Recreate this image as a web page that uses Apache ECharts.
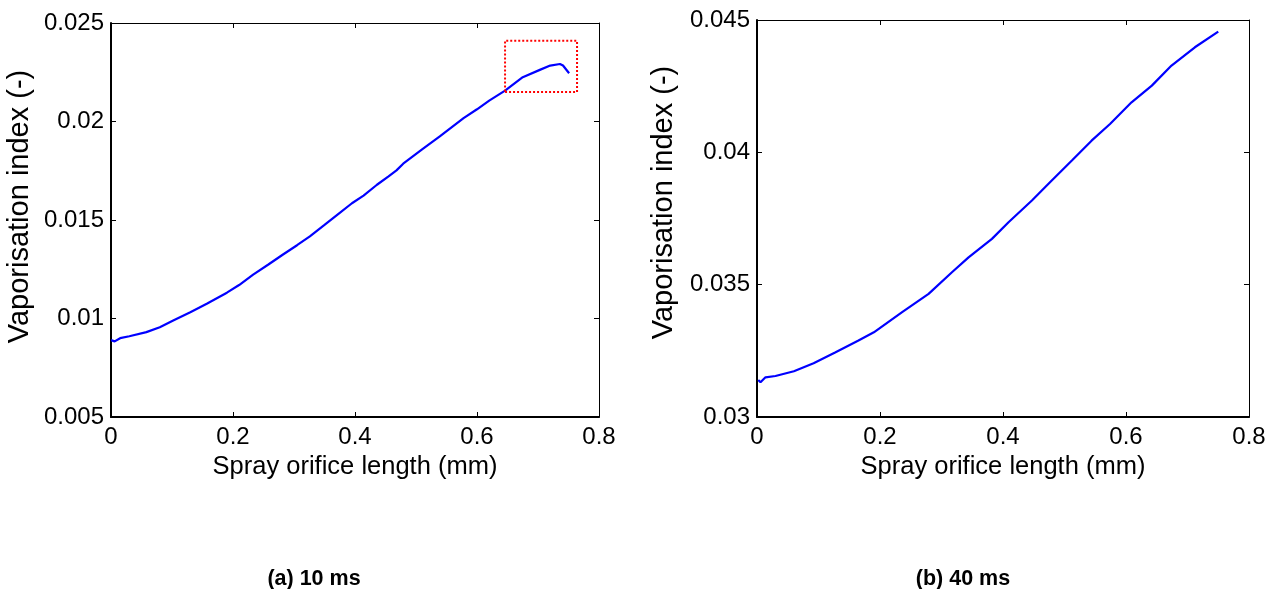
<!DOCTYPE html>
<html>
<head>
<meta charset="utf-8">
<script src="https://cdn.jsdelivr.net/npm/echarts@6/dist/echarts.min.js"></script>
<style>
html,body{margin:0;padding:0;background:#fff;}
#chart{width:1276px;height:589px;}
</style>
</head>
<body>
<div id="chart"></div>
<script>
// ---- Data ----
const leftX = [0.000,0.006,0.015,0.030,0.058,0.080,0.102,0.130,0.157,0.190,0.210,0.233,0.258,0.282,0.305,0.326,0.350,0.375,0.395,0.414,0.436,0.455,0.468,0.479,0.510,0.539,0.578,0.600,0.620,0.646,0.675,0.703,0.720,0.736,0.741,0.751];
const leftY = [0.00890,0.00884,0.00900,0.00910,0.00931,0.00956,0.00990,0.01032,0.01075,0.01131,0.01170,0.01223,0.01274,0.01325,0.01372,0.01417,0.01475,0.01536,0.01585,0.01624,0.01679,0.01722,0.01752,0.01786,0.01858,0.01924,0.02017,0.02062,0.02106,0.02157,0.02225,0.02262,0.02284,0.02292,0.02284,0.02245];

const rightX = [0.002,0.0057,0.0138,0.030,0.060,0.092,0.127,0.165,0.190,0.236,0.279,0.317,0.344,0.382,0.409,0.447,0.474,0.512,0.544,0.574,0.609,0.642,0.674,0.712,0.750];
const rightY = [0.0314,0.03131,0.0315,0.03155,0.03173,0.03203,0.03244,0.03289,0.0332,0.03396,0.03465,0.03547,0.03603,0.03673,0.03736,0.03818,0.03881,0.03969,0.04044,0.04107,0.04189,0.04252,0.04328,0.04397,0.04456];

const boxX = [0.646,0.764,0.764,0.646,0.646];
const boxY = [0.0215,0.0215,0.0241,0.0241,0.0215];

const xTicks = [0, 0.2, 0.4, 0.6, 0.8];
const leftYTicks = [0.005, 0.01, 0.015, 0.02, 0.025];
const rightYTicks = [0.03, 0.035, 0.04, 0.045];

const xName = 'Spray orifice length (mm)';
const yName = 'Vaporisation index (-)';
const captions = ['(a) 10 ms', '(b) 40 ms'];

// ---- Build ----
const zip = (a, b) => a.map((v, i) => [v, b[i]]);
const fmt = v => String(parseFloat(Number(v).toFixed(4)));
const FONT = 'Liberation Sans';
const TXT = {color:'#000', fontFamily: FONT, fontSize: 24};
const XNAME = {color:'#000', fontFamily: FONT, fontSize: 25.5};

const grids = [
  {left:111, top:23, width:488, height:394},
  {left:757, top:20, width:492, height:397}
];

function xAxes(gi){
  const base = {type:'value', gridIndex:gi, min:xTicks[0], max:xTicks[xTicks.length-1], interval:0.2, splitLine:{show:false}};
  return [
    Object.assign({}, base, {
      position:'bottom',
      name:xName, nameLocation:'middle', nameGap:35, nameTextStyle:XNAME,
      axisLine:{show:true, onZero:false, lineStyle:{color:'#000', width:2}},
      axisTick:{show:true, inside:true, length:5, lineStyle:{color:'#000', width:1}},
      axisLabel:Object.assign({margin:8, formatter:fmt}, TXT)
    }),
    Object.assign({}, base, {
      position:'top',
      axisLine:{show:true, onZero:false, lineStyle:{color:'#000', width:1}},
      axisTick:{show:true, inside:true, length:5, lineStyle:{color:'#000', width:1}},
      axisLabel:{show:false}
    })
  ];
}
function yAxes(gi, ticks){
  const base = {type:'value', gridIndex:gi, min:ticks[0], max:ticks[ticks.length-1], interval:0.005, splitLine:{show:false}};
  return [
    Object.assign({}, base, {
      position:'left',
      name:yName, nameLocation:'middle', nameGap: gi===0 ? 77 : 79,
      nameTextStyle:{color:'#000', fontFamily: FONT, fontSize: 29, padding: gi===0 ? [0,0,0,27] : [0,0,0,32]},
      axisLine:{show:true, onZero:false, lineStyle:{color:'#000', width:2}},
      axisTick:{show:true, inside:true, length:5, lineStyle:{color:'#000', width:1}},
      axisLabel:Object.assign({margin:7, formatter:fmt}, TXT)
    }),
    Object.assign({}, base, {
      position:'right',
      axisLine:{show:true, onZero:false, lineStyle:{color:'#000', width:1}},
      axisTick:{show:true, inside:true, length:5, lineStyle:{color:'#000', width:1}},
      axisLabel:{show:false}
    })
  ];
}

const CAP = {fontFamily:FONT, fontWeight:'bold', fontSize:21.5, color:'#000'};
const option = {
  animation:false,
  backgroundColor:'#fff',
  grid: grids,
  title: [
    {text:captions[0], left:309, top:563, textAlign:'center', textStyle:CAP},
    {text:captions[1], left:958, top:563, textAlign:'center', textStyle:CAP}
  ],
  xAxis: [...xAxes(0), ...xAxes(1)],
  yAxis: [...yAxes(0, leftYTicks), ...yAxes(1, rightYTicks)],
  series: [
    {type:'line', xAxisIndex:0, yAxisIndex:0, data:zip(leftX, leftY), showSymbol:false, symbol:'none', smooth:false,
     lineStyle:{color:'#0000ff', width:2.2}},
    {type:'line', xAxisIndex:0, yAxisIndex:0, data:zip(boxX, boxY), showSymbol:false, symbol:'none',
     lineStyle:{color:'#ff0000', width:2, type:[2,2]}},
    {type:'line', xAxisIndex:2, yAxisIndex:2, data:zip(rightX, rightY), showSymbol:false, symbol:'none', smooth:false,
     lineStyle:{color:'#0000ff', width:2.2}}
  ]
};

const chart = echarts.init(document.getElementById('chart'), null, {renderer:'canvas'});
chart.setOption(option);
</script>
</body>
</html>
